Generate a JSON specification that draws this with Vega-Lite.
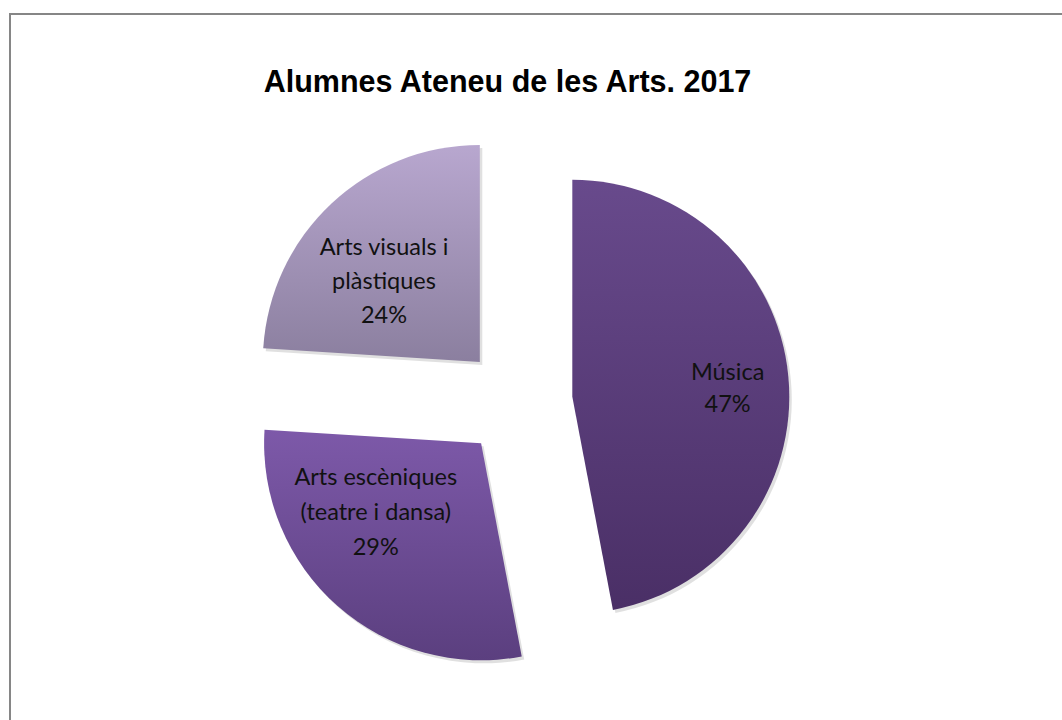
{
  "$schema": "https://vega.github.io/schema/vega-lite/v6.json",
  "width": 1062,
  "height": 720,
  "autosize": {"type": "fit", "contains": "padding"},
  "padding": {"left": 9, "top": 13, "right": -4, "bottom": -4},
  "background": "white",
  "config": {"view": {"stroke": null}},
  "title": {
    "text": "Alumnes Ateneu de les Arts. 2017",
    "font": "Liberation Sans",
    "fontSize": 30.5,
    "fontWeight": "bold",
    "color": "#000000",
    "anchor": "middle",
    "baseline": "alphabetic",
    "offset": -109,
    "dx": -30
  },
  "data": {
    "values": [
      {"categoria": "Música", "valor": 47, "etiqueta": ["Música", "47%"]},
      {"categoria": "Arts escèniques (teatre i dansa)", "valor": 29, "etiqueta": ["Arts escèniques", "(teatre i dansa)", "29%"]},
      {"categoria": "Arts visuals i plàstiques", "valor": 24, "etiqueta": ["Arts visuals i", "plàstiques", "24%"]}
    ]
  },
  "transform": [
    {"stack": "valor", "groupby": [], "as": ["v0", "v1"]},
    {"calculate": "(datum.v0 + datum.v1) / 2", "as": "mig"}
  ],
  "layer": [
    {
      "transform": [{"aggregate": [{"op": "sum", "field": "valor", "as": "total"}]}],
      "mark": {"type": "rect", "fill": null, "stroke": "#868686", "strokeWidth": 2},
      "encoding": {}
    },
    {
      "transform": [{"filter": "datum.categoria === 'Música'"}],
      "layer": [
        {
          "mark": {"type": "arc", "radius": 217, "xOffset": 37.3, "yOffset": 31.3, "fill": "#000000", "opacity": 0.12},
          "encoding": {
            "theta": {"field": "v0", "type": "quantitative", "scale": {"domain": [0, 100]}},
            "theta2": {"field": "v1"}
          }
        },
        {
          "mark": {
            "type": "arc", "radius": 217, "xOffset": 34.8, "yOffset": 28.3,
            "fill": {"gradient": "linear", "x1": 0, "y1": 0, "x2": 0, "y2": 1,
              "stops": [{"offset": 0, "color": "#684a8c"}, {"offset": 1, "color": "#4a2f66"}]}
          },
          "encoding": {
            "theta": {"field": "v0", "type": "quantitative", "scale": {"domain": [0, 100]}},
            "theta2": {"field": "v1"}
          }
        },
        {
          "mark": {
            "type": "text", "radius": 156, "xOffset": 34.8, "yOffset": 28.3, "dy": -9,
            "font": "Lato", "fontSize": 23.5, "lineHeight": 32, "color": "#111111",
            "align": "center", "baseline": "middle"
          },
          "encoding": {
            "theta": {"field": "mig", "type": "quantitative", "scale": {"domain": [0, 100]}},
            "text": {"field": "etiqueta"}
          }
        }
      ]
    },
    {
      "transform": [{"filter": "datum.categoria === 'Arts escèniques (teatre i dansa)'"}],
      "layer": [
        {
          "mark": {"type": "arc", "radius": 217, "xOffset": -53.9, "yOffset": 77.8, "fill": "#000000", "opacity": 0.12},
          "encoding": {
            "theta": {"field": "v0", "type": "quantitative", "scale": {"domain": [0, 100]}},
            "theta2": {"field": "v1"}
          }
        },
        {
          "mark": {
            "type": "arc", "radius": 217, "xOffset": -56.4, "yOffset": 74.8,
            "fill": {"gradient": "linear", "x1": 0, "y1": 0, "x2": 0, "y2": 1,
              "stops": [{"offset": 0, "color": "#7d59a9"}, {"offset": 1, "color": "#5b3f7f"}]}
          },
          "encoding": {
            "theta": {"field": "v0", "type": "quantitative", "scale": {"domain": [0, 100]}},
            "theta2": {"field": "v1"}
          }
        },
        {
          "mark": {
            "type": "text", "radius": 120, "xOffset": -56.4, "yOffset": 74.8, "dx": -26, "dy": -55,
            "font": "Lato", "fontSize": 23.5, "lineHeight": 35, "color": "#111111",
            "align": "center", "baseline": "middle"
          },
          "encoding": {
            "theta": {"field": "mig", "type": "quantitative", "scale": {"domain": [0, 100]}},
            "text": {"field": "etiqueta"}
          }
        }
      ]
    },
    {
      "transform": [{"filter": "datum.categoria === 'Arts visuals i plàstiques'"}],
      "layer": [
        {
          "mark": {"type": "arc", "radius": 217, "xOffset": -55.2, "yOffset": -3.6, "fill": "#000000", "opacity": 0.12},
          "encoding": {
            "theta": {"field": "v0", "type": "quantitative", "scale": {"domain": [0, 100]}},
            "theta2": {"field": "v1"}
          }
        },
        {
          "mark": {
            "type": "arc", "radius": 217, "xOffset": -57.7, "yOffset": -6.6,
            "fill": {"gradient": "linear", "x1": 0, "y1": 0, "x2": 0, "y2": 1,
              "stops": [{"offset": 0, "color": "#b8a7cf"}, {"offset": 1, "color": "#8b7f9f"}]}
          },
          "encoding": {
            "theta": {"field": "v0", "type": "quantitative", "scale": {"domain": [0, 100]}},
            "theta2": {"field": "v1"}
          }
        },
        {
          "mark": {
            "type": "text", "radius": 137, "xOffset": -57.7, "yOffset": -6.6, "dx": -2, "dy": -14,
            "font": "Lato", "fontSize": 23.5, "lineHeight": 34, "color": "#111111",
            "align": "center", "baseline": "middle"
          },
          "encoding": {
            "theta": {"field": "mig", "type": "quantitative", "scale": {"domain": [0, 100]}},
            "text": {"field": "etiqueta"}
          }
        }
      ]
    }
  ]
}
